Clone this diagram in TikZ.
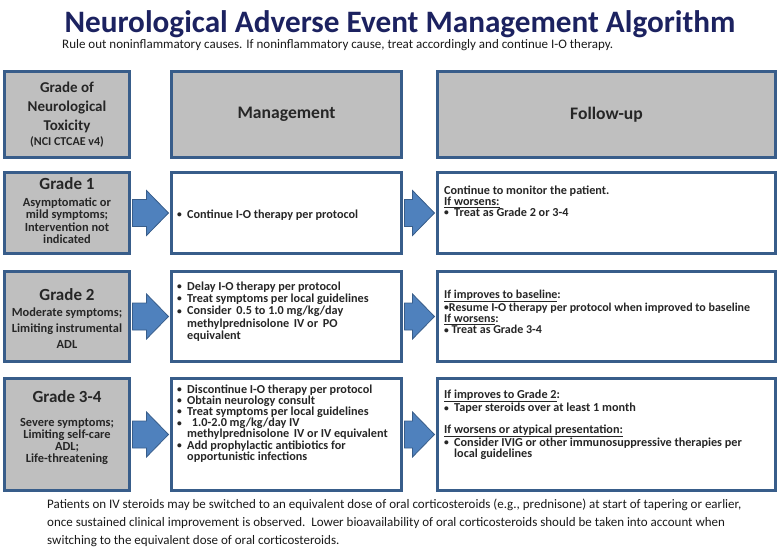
\documentclass[tikz,border=0pt]{standalone}
\usepackage{fontspec}
\setmainfont{Carlito}
\usetikzlibrary{calc}
\definecolor{bordc}{HTML}{385D8A}
\definecolor{grayc}{HTML}{BFBFBF}
\definecolor{arrc}{HTML}{4F81BD}
\definecolor{titlec}{HTML}{1C2260}
\definecolor{txtc}{HTML}{262626}
\newcommand\smbul{\raisebox{0.6pt}{\fontsize{9.5}{9.5}\selectfont •}}
\newcommand\mybul{\makebox[10pt][l]{\smbul}}
\newcommand\myind{\hspace*{10pt}}
\newcommand\myarrow[2]{%
 \draw[blockarr] ($(#1.east |- #2.west)+(1.5pt,13.5pt)$) -- ($(#2.west)+(-23.5pt,13.5pt)$)
   -- ($(#2.west)+(-23.5pt,22.5pt)$) -- ($(#2.west)+(-1.5pt,0pt)$)
   -- ($(#2.west)+(-23.5pt,-22.5pt)$) -- ($(#2.west)+(-23.5pt,-13.5pt)$)
   -- ($(#1.east |- #2.west)+(1.5pt,-13.5pt)$) -- cycle;}
\begin{document}
\begin{tikzpicture}[x=1pt,y=1pt,
 box/.style={draw=bordc, line width=3pt, inner sep=0pt},
 graybox/.style={box, fill=grayc},
 whitebox/.style={box, fill=white},
 blockarr/.style={fill=arrc, draw=bordc, line width=0.8pt, line join=miter},
 hdr/.style={font=\bfseries\fontsize{17.6}{20}\selectfont, text=txtc},
 gradet/.style={font=\bfseries\fontsize{17}{20}\selectfont, text=txtc, inner sep=0pt, anchor=base},
 gdesc/.style={font=\bfseries\fontsize{12.4}{12.4}\selectfont, text=txtc, inner sep=0pt, align=center, anchor=north},
 bodyt/.style={font=\bfseries\fontsize{12.2}{12.3}\selectfont, text=txtc, inner sep=0pt, align=left, anchor=north west},
 plaint/.style={font=\fontsize{13}{18}\selectfont, text=black!90, inner sep=0pt, align=left}
]
\useasboundingbox (0,0) rectangle (780,-549);

% title
\node[font=\bfseries\fontsize{31.2}{36}\selectfont, text=titlec, inner sep=0pt, anchor=base] (title) at (400,-32) {Neurological Adverse Event Management Algorithm};
\node[plaint, anchor=base west] (subtitle) at (62,-48.5) {Rule out noninflammatory causes. If noninflammatory cause, treat accordingly and continue I-O therapy.};

% header row
\node[graybox, minimum width=125pt, minimum height=86pt] (gh) at (67,-114.5) {};
\node[graybox, hdr, minimum width=230pt, minimum height=86pt] (mh) at (286.5,-114.5) {Management};
\node[graybox, hdr, minimum width=338pt, minimum height=86pt] (fh) at (606.5,-114.5) {Follow-up};
\node[font=\bfseries\fontsize{15}{19}\selectfont, text=txtc, inner sep=0pt, align=center, anchor=north] (ght) at (67,-82) {Grade of\\Neurological\\Toxicity};
\node[font=\bfseries\fontsize{12}{13}\selectfont, text=txtc, inner sep=0pt, anchor=base] (ghs) at (67,-145) {(NCI CTCAE v4)};

% row 1
\node[graybox, minimum width=125pt, minimum height=81pt] (g1) at (67,-213) {};
\node[whitebox, minimum width=230pt, minimum height=81pt] (m1) at (286.5,-213) {};
\node[whitebox, minimum width=338pt, minimum height=81pt] (f1) at (606.5,-213) {};
\node[gradet] (g1t) at (67,-189) {Grade 1};
\node[gdesc] (g1s) at (67,-197.3) {Asymptomatic or\\mild symptoms;\\Intervention not\\indicated};
\node[bodyt, anchor=base west] (m1t) at (177,-218) {\mybul Continue I-O therapy per protocol};
\node[bodyt, font=\bfseries\fontsize{12.2}{11}\selectfont] (f1t) at (444,-185.5) {Continue to monitor the patient.\\\underline{If worsens:}\\\mybul Treat as Grade 2 or 3-4};

% row 2
\node[graybox, minimum width=125pt, minimum height=90pt] (g2) at (67,-316.5) {};
\node[whitebox, minimum width=230pt, minimum height=90pt] (m2) at (286.5,-316.5) {};
\node[whitebox, minimum width=338pt, minimum height=90pt] (f2) at (606.5,-316.5) {};
\node[gradet] (g2t) at (67,-300.7) {Grade 2};
\node[gdesc, font=\bfseries\fontsize{12.4}{15.8}\selectfont] (g2s) at (67,-307.6) {Moderate symptoms;\\Limiting instrumental\\ADL};
\node[bodyt] (m2t) at (177,-281.4) {\mybul Delay I-O therapy per protocol\\\mybul Treat symptoms per local guidelines\\\mybul Consider\, 0.5 to 1.0 mg/kg/day\\\myind methylprednisolone\, IV or\, PO\\\myind equivalent};
\node[bodyt, font=\bfseries\fontsize{12}{11.3}\selectfont] (f2t) at (444,-289.4) {\underline{If improves to baseline}:\\\smbul Resume I-O therapy per protocol when improved to baseline\\\underline{If worsens}:\\\smbul\ Treat as Grade 3-4};

% row 3
\node[graybox, minimum width=125pt, minimum height=112pt] (g3) at (67,-434.5) {};
\node[whitebox, minimum width=230pt, minimum height=112pt] (m3) at (286.5,-434.5) {};
\node[whitebox, minimum width=338pt, minimum height=112pt] (f3) at (606.5,-434.5) {};
\node[gradet] (g3t) at (67,-402) {Grade 3-4};
\node[gdesc, font=\bfseries\fontsize{12.4}{11.8}\selectfont] (g3s) at (67,-418.3) {Severe symptoms;\\Limiting self-care\\ADL;\\Life-threatening};
\node[bodyt, font=\bfseries\fontsize{12.2}{11.2}\selectfont] (m3t) at (177,-384.4) {\mybul Discontinue I-O therapy per protocol\\\mybul Obtain neurology consult\\\mybul Treat symptoms per local guidelines\\\mybul\, 1.0-2.0 mg/kg/day IV\\\myind methylprednisolone\, IV or IV equivalent\\\mybul Add prophylactic antibiotics for\\\myind opportunistic infections};
\node[bodyt, font=\bfseries\fontsize{12.2}{10.7}\selectfont] (f3t) at (444,-389.4) {\underline{If improves to Grade 2}:\\\mybul Taper steroids over at least 1 month\\\mbox{}\\\underline{If worsens or atypical presentation:}\\\mybul Consider IVIG or other immunosuppressive therapies per\\\myind local guidelines};

% arrows
\myarrow{g1}{m1}
\myarrow{m1}{f1}
\myarrow{g2}{m2}
\myarrow{m2}{f2}
\myarrow{g3}{m3}
\myarrow{m3}{f3}

% footer
\node[plaint, anchor=north west] (foot) at (47,-498.8) {Patients on IV steroids may be switched to an equivalent dose of oral corticosteroids (e.g., prednisone) at start of tapering or earlier,\\once sustained clinical improvement is observed.\ \ Lower bioavailability of oral corticosteroids should be taken into account when\\switching to the equivalent dose of oral corticosteroids.};
\end{tikzpicture}
\end{document}
